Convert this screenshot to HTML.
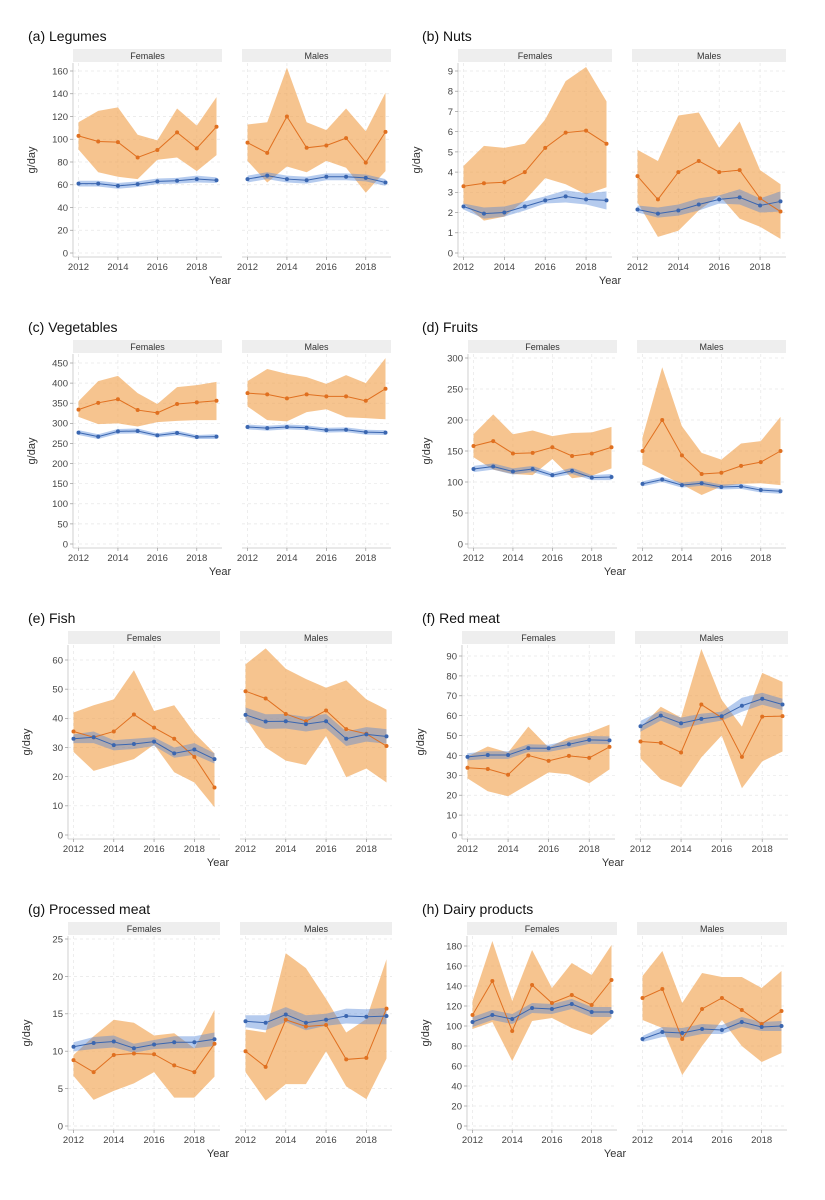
<!DOCTYPE html>
<html><head><meta charset="utf-8">
<style>
body{margin:0;background:#fff;}
svg{display:block;font-family:"Liberation Sans",Arial,sans-serif;}
</style></head>
<body>
<svg id="chart" width="825" height="1200" viewBox="0 0 825 1200" xmlns="http://www.w3.org/2000/svg"></svg>
<script>
// ---- data ----
const years = [2012,2013,2014,2015,2016,2017,2018,2019];
const panelTitles = ["(a) Legumes","(b) Nuts","(c) Vegetables","(d) Fruits","(e) Fish","(f) Red meat","(g) Processed meat","(h) Dairy products"];
const facetNames = ["Females","Males"];
const yTickStep = [20,1,50,50,10,10,5,20];
const yTickMax = [160,9,450,300,60,90,25,180];

const orangeF = [[103,98,97.5,84,90.5,106,92,111],[3.3,3.45,3.5,4.0,5.2,5.95,6.05,5.4],[334,351,360,333,326,348,352,356],[158,166,146,147,156,142,146,156],[35.5,33.5,35.5,41.3,36.8,33,26.8,16.3],[33.8,33.2,30.3,40,37.3,39.8,38.8,44.3],[8.8,7.2,9.5,9.7,9.6,8.1,7.2,11],[111,145,95,141,123,131,121,146]];
const orangeFLo = [[91,71,67,65,82,84,72,86],[2.45,1.6,1.8,2.6,3.7,3.4,2.9,3.25],[316,298,300,292,303,306,308,308],[140,120,113,111,137,106,110,122],[28.5,22,24,26,31,21.5,18,9.5],[28.5,22,19.5,25.5,31.5,30.5,26,33],[6.7,3.5,4.7,5.7,7.2,3.8,3.8,6.6],[97,104,65,105,108,98,91,108]];
const orangeFHi = [[115,125,128,104,99,127,112,137],[4.3,5.3,5.2,5.4,6.6,8.5,9.2,7.5],[355,405,418,375,348,390,395,403],[177,209,177,183,174,179,180,189],[42,44.5,46.5,56.5,42.5,44.5,35,28],[39.5,44.5,41.5,54.5,44,49,51.5,55.5],[9.5,12,14.2,13.8,12.1,12.4,10.4,15.5],[125,185,125,176,138,163,151,181]];
const orangeM = [[97,88,120,92.5,94.5,101,79.5,106.5],[3.8,2.65,4.0,4.55,4.0,4.1,2.7,2.05],[375,372,362,372,367,367,356,386],[150,200,143,113,115,126,132,150],[49.3,46.8,41.5,39,42.7,36.3,34.7,30.5],[47,46.3,41.5,65.6,59,39.3,59.5,59.8],[10,7.9,14.2,13.3,13.5,8.9,9.1,15.7],[128,137,87,117,128,116,102,115]];
const orangeMLo = [[81,62,76,71,81,75,53,72],[2.5,0.8,1.1,2.1,2.85,1.7,1.3,0.7],[342,308,305,328,335,315,313,310],[128,112,96,79,93,97,98,95],[40,30,25.5,24,34,19.8,22.8,18],[38.5,28,24,39,50,23.5,37,42],[7.2,3.4,5.6,5.6,10,5.3,3.6,9],[106,98,51,80,106,80,64,73]];
const orangeMHi = [[113,115,163,115,108,127,107,141],[5.1,4.55,6.8,6.95,5.2,6.5,4.1,3.4],[405,435,423,415,398,420,400,462],[172,285,190,147,136,162,166,205],[58.5,64,57,53.5,50.5,53,46.5,43],[54,64.5,59,93.5,68,54.5,81.5,77],[12.9,12.5,23.1,21.1,17,12.5,14.3,22.3],[150,175,123,153,149,149,138,155]];
const blueF = [[61,61,59,60.5,63,63.5,65,64],[2.3,1.95,2.0,2.3,2.6,2.8,2.65,2.6],[277,267,280,281,270,276,266,267],[121,125,117,121,111,118,107,108],[33,33.5,30.8,31.2,32,28,29.3,26],[39.3,40.2,40.2,43.7,43.6,45.6,47.8,47.6],[10.6,11.1,11.3,10.4,10.9,11.2,11.2,11.6],[104,111,107,118,117,122,114,114]];
const blueFLo = [[58.5,58.5,56.5,58,60.5,61,62,61.5],[2.15,1.7,1.8,2.1,2.45,2.5,2.4,2.15],[271,261,274,275,265,270,261,261],[116,120,112,116,107,113,103,103],[31.5,31.5,29,29.5,30.5,26.5,27.5,24.5],[37.5,38.3,38.3,41.8,41.8,43.7,45.8,45.6],[10,10.3,10.5,9.8,10.3,10.4,10.4,10.7],[99,106,102,113,112,117,109,109]];
const blueFHi = [[63.5,63.5,61.5,63,65.5,66,68,66.5],[2.45,2.25,2.3,2.55,2.8,3.1,2.95,3.05],[283,273,286,287,275,282,271,273],[126,130,122,126,115,123,111,113],[34.5,35.5,32.5,33,33.5,30,31.5,28],[41.1,42.1,42.1,45.6,45.4,47.5,49.8,49.6],[11.2,11.9,12.1,11.0,11.5,12.0,12.0,12.5],[109,116,112,123,122,127,119,119]];
const blueM = [[65,68,65,64,67,67,66,62],[2.15,1.95,2.1,2.4,2.65,2.75,2.35,2.55],[291,288,291,289,283,284,278,277],[97,104,95,98,92,93,87,85],[41.2,38.9,39,38,39,33,34.5,33.8],[54.7,60,56.2,58.4,59.7,65,68.5,65.6],[14,13.8,14.9,13.8,14.2,14.7,14.6,14.7],[87,94,93,97,96,104,99,100]];
const blueMLo = [[62,65,62,61,64,64,63,59],[2.0,1.75,1.85,2.1,2.45,2.4,2.0,2.05],[285,282,285,283,277,278,272,271],[93,100,91,94,88,89,83,81],[38.7,36.4,36.5,35.5,36.5,30.5,32,31.3],[52,57.5,53.5,55.8,57.5,62,65.5,62.8],[13.2,12.8,13.9,12.8,13.4,13.7,13.6,13.6],[84,89,88,92,92,99,95,95]];
const blueMHi = [[68,71,68,67,70,70,69,65],[2.35,2.25,2.4,2.7,2.85,3.15,2.7,3.05],[297,294,297,295,289,290,284,283],[101,108,99,102,96,97,91,89],[43.7,41.4,41.5,40.5,41.5,35.5,37,36.3],[57.4,62.5,59,61,62,69,71.5,68.5],[14.8,14.8,15.9,14.8,15.0,15.7,15.6,15.8],[90,99,98,102,101,109,104,105]];

// ---- layout (not data) ----
const axisLeft = [73,458,73,468,68,462,68,467];
const facetW  = [149,154,149,149,152,153,152,150];
const topTickPx = [71,71,72,67,78,74,66,73];
const NS = "http://www.w3.org/2000/svg";
const svg = document.getElementById("chart");
function mk(tag, attrs, parent){
  const e = document.createElementNS(NS, tag);
  for (const k in attrs) e.setAttribute(k, attrs[k]);
  (parent||svg).appendChild(e);
  return e;
}
const GAP = 20;
for (let p=0;p<8;p++){
  const col = p%2, row = Math.floor(p/2);
  const base = row*291;
  const g = mk("g",{});
  
  
  const titleX = col===0 ? 28 : 422;
  const t = mk("text",{x:titleX,y:base+41,"font-size":"14","fill":"#111"},g);
  t.textContent = panelTitles[p];
  
  
  const zeroPx = base+253, topPx = base+topTickPx[p];
  const yS = v => zeroPx - (v/yTickMax[p])*(zeroPx-topPx);
  const ylx = axisLeft[p]-38;
  const yl = mk("text",{x:ylx,y:base+160,"font-size":"11","fill":"#333","text-anchor":"middle",transform:`rotate(-90 ${ylx} ${base+160})`},g);
  yl.textContent = "g/day";
  
  
  const xl = mk("text",{x:axisLeft[p]+facetW[p]-2,y:base+284,"font-size":"11","fill":"#333","text-anchor":"middle"},g);
  xl.textContent = "Year";
  
  
  for (let f=0; f<2; f++){
    const L = axisLeft[p] + f*(facetW[p]+GAP), W = facetW[p];
    const xS = yr => L + 5.5 + (yr-2012)/7*(W-11);
    const fg = mk("g",{},g);
    
    
    const st = mk("rect",{x:L,y:base+49,width:W,height:13,fill:"#eeeeee"},fg);
    
    
    const sl = mk("text",{x:L+W/2,y:base+59,"font-size":"9","fill":"#333","text-anchor":"middle"},fg);
    sl.textContent = facetNames[f];
    
    
    for (let v=0; v<=yTickMax[p]+1e-9; v+=yTickStep[p]){
      mk("line",{x1:L,x2:L+W,y1:yS(v),y2:yS(v),stroke:"#e6e6e6","stroke-width":0.7,"stroke-dasharray":"3,3"},fg);
    }
    for (let yr=2012; yr<=2018; yr+=2){
      mk("line",{x1:xS(yr),x2:xS(yr),y1:base+63,y2:base+257,stroke:"#e6e6e6","stroke-width":0.7,"stroke-dasharray":"3,3"},fg);
    }
    mk("line",{x1:L,x2:L+W,y1:base+257,y2:base+257,stroke:"#c4c4c4","stroke-width":0.8},fg);
    if (f===0){
      mk("line",{x1:L,x2:L,y1:base+63,y2:base+257,stroke:"#c4c4c4","stroke-width":0.8},fg);
      for (let v=0; v<=yTickMax[p]+1e-9; v+=yTickStep[p]){
        mk("line",{x1:L-3,x2:L,y1:yS(v),y2:yS(v),stroke:"#999","stroke-width":0.7},fg);
        const tl = mk("text",{x:L-5,y:yS(v)+3.4,"font-size":"9.5","fill":"#444","text-anchor":"end"},fg);
        tl.textContent = String(Math.round(v*100)/100);
        
        
      }
    }
    for (let yr=2012; yr<=2018; yr+=2){
      mk("line",{x1:xS(yr),x2:xS(yr),y1:base+257,y2:base+260,stroke:"#999","stroke-width":0.7},fg);
      const tl = mk("text",{x:xS(yr),y:base+270,"font-size":"9.5","fill":"#444","text-anchor":"middle"},fg);
      tl.textContent = String(yr);
      
      
    }
    const oM = f? orangeM[p]:orangeF[p], oL = f? orangeMLo[p]:orangeFLo[p], oH = f? orangeMHi[p]:orangeFHi[p];
    const bM = f? blueM[p]:blueF[p], bL = f? blueMLo[p]:blueFLo[p], bH = f? blueMHi[p]:blueFHi[p];
    const band = (lo,hi)=> years.map((y,i)=>`${xS(y)},${yS(hi[i])}`).concat(years.map((y,i)=>[y,i]).reverse().map(([y,i])=>`${xS(y)},${yS(lo[i])}`)).join(" ");
    const line = (m)=> years.map((y,i)=>`${xS(y)},${yS(m[i])}`).join(" ");
    const ob = mk("polygon",{points:band(oL,oH),fill:"#f0a04b","fill-opacity":0.62},fg);
    
    
    const bb = mk("polygon",{points:band(bL,bH),fill:"#4f82d6","fill-opacity":0.42},fg);
    
    
    const ol = mk("polyline",{points:line(oM),fill:"none",stroke:"#e07020","stroke-width":1},fg);
    
    
    const bl = mk("polyline",{points:line(bM),fill:"none",stroke:"#3a66b0","stroke-width":1},fg);
    
    
    years.forEach((y,i)=>{
      const c1 = mk("circle",{cx:xS(y),cy:yS(oM[i]),r:2,fill:"#e07020"},fg);
      
      
      const c2 = mk("circle",{cx:xS(y),cy:yS(bM[i]),r:2,fill:"#3a66b0"},fg);
      
      
    });
  }
}
</script>
</body></html>
